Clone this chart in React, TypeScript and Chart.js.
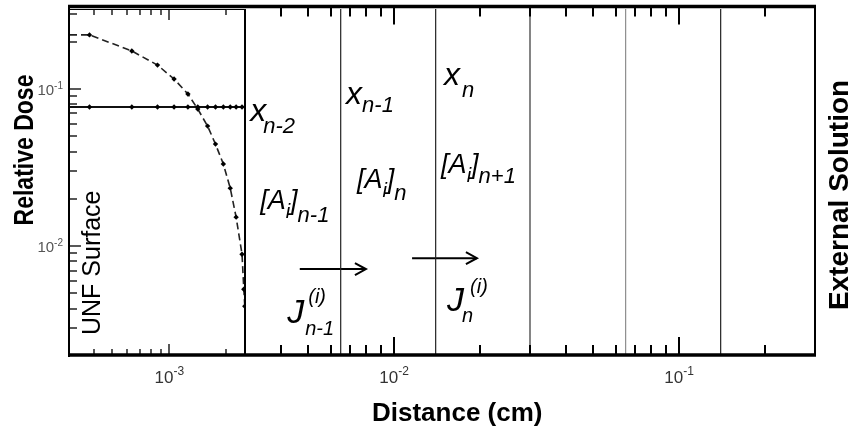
import React, { useEffect, useRef } from 'react';
import { Chart, registerables } from 'chart.js';

Chart.register(...registerables);

const W = 852;
const H = 431;

// ---------- left panel: relative dose next to the UNF surface ----------
const DASHED_DIST_CM = [3.0e-4, 3.8e-4, 6.35e-4, 8.67e-4, 1.06e-3, 1.254e-3, 1.413e-3, 1.592e-3, 1.752e-3, 1.927e-3, 2.095e-3, 2.25e-3, 2.417e-3, 2.47e-3, 2.5e-3];
const DASHED_DOSE = [0.221, 0.221, 0.1746, 0.142, 0.1158, 0.0929, 0.0746, 0.0581, 0.0446, 0.0333, 0.0234, 0.0153, 0.00889, 0.00532, 0.00415];
const SOLID_DIST_CM = [3.0e-4, 3.8e-4, 6.35e-4, 8.67e-4, 1.06e-3, 1.254e-3, 1.413e-3, 1.592e-3, 1.752e-3, 1.927e-3, 2.095e-3, 2.25e-3, 2.417e-3, 2.506e-3];
const SOLID_DOSE = [0.0768, 0.0768, 0.0768, 0.0768, 0.0768, 0.0768, 0.0768, 0.0768, 0.0768, 0.0768, 0.0768, 0.0768, 0.0768, 0.0768];

// axis ranges
const LEFT_DIST_RANGE = [3.0e-4, 2.506e-3];
const RIGHT_DIST_RANGE = [3e-3, 0.3];
const DOSE_RANGE = [2e-3, 0.323];

// ---------- right panel: compartments ----------
const BOUNDARY_DIST_CM = [3e-3, 6.5e-3, 1.4e-2, 3e-2, 6.5e-2, 0.14];
const ARROW_FROM_CM = [4.67e-3, 1.157e-2];
const ARROW_TO_CM = [7.97e-3, 1.954e-2];
const ARROW_LEVEL = [7.15e-3, 8.39e-3];

// tick labels (base 10 with exponent)
const X_TICK_LABELS_LEFT = [{ value: 1e-3, exp: '-3' }];
const X_TICK_LABELS_RIGHT = [{ value: 1e-2, exp: '-2' }, { value: 1e-1, exp: '-1' }];
const Y_TICK_LABELS = [{ value: 1e-2, exp: '-2' }, { value: 1e-1, exp: '-1' }];

// styles
const BOUNDARY_STYLE = [
  { w: 2, c: '#000' },
  { w: 1.2, c: '#222' },
  { w: 1.2, c: '#222' },
  { w: 1.2, c: '#333' },
  { w: 1, c: '#777' },
  { w: 1.2, c: '#222' },
];

// annotation labels anchored in data space (left edge / baseline)
type Part = { t: string; size: number; dx?: number; dy?: number };
const CELL_LABELS: { x: number; y: number; parts: Part[] }[] = [
  { x: 3.13e-3, y: 0.0625, parts: [{ t: 'x', size: 32 }, { t: 'n-2', size: 22, dx: 13, dy: 12 }] },
  { x: 6.79e-3, y: 0.0803, parts: [{ t: 'x', size: 32 }, { t: 'n-1', size: 22, dx: 16, dy: 8 }] },
  { x: 1.497e-2, y: 0.106, parts: [{ t: 'x', size: 32 }, { t: 'n', size: 22, dx: 18, dy: 12 }] },
  { x: 3.39e-3, y: 0.01722, parts: [{ t: '[', size: 27 }, { t: 'A', size: 27 }, { t: 'i', size: 20, dy: 9 }, { t: ']', size: 27 }, { t: 'n-1', size: 22, dy: 13 }] },
  { x: 7.41e-3, y: 0.02341, parts: [{ t: '[', size: 27 }, { t: 'A', size: 27 }, { t: 'i', size: 20, dy: 9 }, { t: ']', size: 27 }, { t: 'n', size: 22, dy: 12 }] },
  { x: 1.463e-2, y: 0.02917, parts: [{ t: '[', size: 27 }, { t: 'A', size: 27 }, { t: 'i', size: 20, dy: 9 }, { t: ']', size: 27 }, { t: 'n+1', size: 22, dy: 10 }] },
  { x: 4.22e-3, y: 3.24e-3, parts: [{ t: 'J', size: 34 }, { t: '(i)', size: 20, dx: 21, dy: -20 }, { t: 'n-1', size: 20, dx: 18, dy: 12 }] },
  { x: 1.535e-2, y: 3.86e-3, parts: [{ t: 'J', size: 34 }, { t: '(i)', size: 20, dx: 23, dy: -18 }, { t: 'n', size: 20, dx: 15, dy: 11 }] },
];

const FONT = '"Liberation Sans", Arial, Helvetica, sans-serif';

function logTicks(range: number[]) {
  const lo = Number(range[0]);
  const hi = Number(range[1]);
  const out: { v: number; major: boolean }[] = [];
  const e0 = Math.floor(Math.log10(lo));
  const e1 = Math.ceil(Math.log10(hi));
  for (let e = e0; e <= e1; e++) {
    for (let m = 1; m <= 9; m++) {
      const v = m * Math.pow(10, e);
      if (v > lo * 1.001 && v < hi * 0.999) out.push({ v, major: m === 1 });
    }
  }
  return out;
}

function seg(ctx: CanvasRenderingContext2D, x1: number, y1: number, x2: number, y2: number) {
  ctx.beginPath();
  ctx.moveTo(x1, y1);
  ctx.lineTo(x2, y2);
  ctx.stroke();
}

function drawPower(ctx: CanvasRenderingContext2D, x: number, baseY: number, exp: string, baseSize: number, expSize: number, rise: number, align: 'center' | 'right') {
  ctx.textAlign = 'left';
  ctx.textBaseline = 'alphabetic';
  ctx.font = `${baseSize}px ${FONT}`;
  const w1 = ctx.measureText('10').width;
  ctx.font = `${expSize}px ${FONT}`;
  const w2 = ctx.measureText(exp).width;
  const start = align === 'center' ? x - (w1 + w2) / 2 : x - w1 - w2;
  ctx.font = `${baseSize}px ${FONT}`;
  ctx.fillText('10', start, baseY);
  ctx.font = `${expSize}px ${FONT}`;
  ctx.fillText(exp, start + w1, baseY - rise);
}

function drawRich(ctx: CanvasRenderingContext2D, x0: number, y0: number, parts: Part[]) {
  ctx.textAlign = 'left';
  ctx.textBaseline = 'alphabetic';
  let cx = x0;
  for (const p of parts) {
    ctx.font = `italic ${p.size}px ${FONT}`;
    const x = p.dx !== undefined ? x0 + p.dx : cx;
    ctx.fillText(p.t, x, y0 + (p.dy || 0));
    cx = x + ctx.measureText(p.t).width;
  }
}

const leftPanelPlugin = {
  id: 'leftPanel',
  afterDraw(chart: any) {
    const ctx: CanvasRenderingContext2D = chart.ctx;
    const a = chart.chartArea;
    const xs = chart.scales.x;
    const ys = chart.scales.y;
    ctx.save();
    ctx.setLineDash([]);
    ctx.strokeStyle = '#111';
    ctx.lineWidth = 1.4;
    for (const t of logTicks(LEFT_DIST_RANGE)) {
      const px = Math.round(xs.getPixelForValue(t.v));
      const len = t.major ? 11 : 6;
      seg(ctx, px, a.bottom - 1, px, a.bottom - 1 - len);
      seg(ctx, px, a.top, px, a.top + len);
    }
    for (const t of logTicks(DOSE_RANGE)) {
      const py = Math.round(ys.getPixelForValue(t.v));
      const len = t.major ? 11 : 7;
      seg(ctx, a.left, py, a.left + len, py);
    }
    ctx.strokeStyle = '#000';
    ctx.lineWidth = 1;
    seg(ctx, a.left, a.top + 0.5, a.right, a.top + 0.5);
    ctx.lineWidth = 2;
    seg(ctx, a.left - 1, a.top - 4, a.left - 1, a.bottom + 1);
    ctx.lineWidth = 3.5;
    seg(ctx, a.left - 2, a.top - 2.5, a.right, a.top - 2.5);
    seg(ctx, a.left - 2, a.bottom - 1, a.right, a.bottom - 1);

    ctx.fillStyle = '#333';
    for (const l of X_TICK_LABELS_LEFT) drawPower(ctx, xs.getPixelForValue(l.value), a.bottom + 27, l.exp, 17, 12, 8, 'center');
    ctx.fillStyle = '#555';
    for (const l of Y_TICK_LABELS) drawPower(ctx, a.left - 7, ys.getPixelForValue(l.value) + 6, l.exp, 15, 10, 6, 'right');

    ctx.fillStyle = '#000';
    ctx.save();
    ctx.translate(a.left - 37, a.top + 141);
    ctx.rotate(-Math.PI / 2);
    ctx.scale(1, 1.2);
    ctx.font = `bold 23px ${FONT}`;
    ctx.textAlign = 'center';
    ctx.fillText('Relative Dose', 0, 0);
    ctx.restore();

    ctx.save();
    ctx.translate(a.left + 30, a.bottom - 21);
    ctx.rotate(-Math.PI / 2);
    ctx.font = `25px ${FONT}`;
    ctx.textAlign = 'left';
    ctx.fillText('UNF Surface', 0, 0);
    ctx.restore();
    ctx.restore();
  },
};

const rightPanelPlugin = {
  id: 'rightPanel',
  afterDraw(chart: any) {
    const ctx: CanvasRenderingContext2D = chart.ctx;
    const a = chart.chartArea;
    const xs = chart.scales.x;
    const ys = chart.scales.y;
    ctx.save();
    ctx.setLineDash([]);
    ctx.strokeStyle = '#000';
    ctx.lineWidth = 2;
    for (const t of logTicks(RIGHT_DIST_RANGE)) {
      const px = Math.round(xs.getPixelForValue(t.v));
      const len = t.major ? 18 : 10;
      seg(ctx, px, a.bottom - 1, px, a.bottom - 1 - len);
      seg(ctx, px, a.top - 2.5, px, a.top - 2.5 + len);
    }
    ctx.lineWidth = 3.5;
    seg(ctx, a.left, a.top - 2.5, a.right + 1, a.top - 2.5);
    seg(ctx, a.left, a.bottom - 1, a.right + 1, a.bottom - 1);
    ctx.lineWidth = 2;
    seg(ctx, a.right, a.top - 2, a.right, a.bottom);

    // arrow heads at the end of each flux arrow
    ARROW_FROM_CM.forEach((_, i) => {
      const meta = chart.getDatasetMeta(BOUNDARY_DIST_CM.length + i);
      const tip = meta.data[1];
      if (!tip) return;
      ctx.lineWidth = 2;
      ctx.beginPath();
      ctx.moveTo(tip.x - 11, tip.y - 6);
      ctx.lineTo(tip.x, tip.y);
      ctx.lineTo(tip.x - 11, tip.y + 6);
      ctx.stroke();
    });

    ctx.fillStyle = '#333';
    for (const l of X_TICK_LABELS_RIGHT) drawPower(ctx, xs.getPixelForValue(l.value), a.bottom + 27, l.exp, 17, 12, 8, 'center');

    ctx.fillStyle = '#000';
    for (const lab of CELL_LABELS) drawRich(ctx, xs.getPixelForValue(lab.x), ys.getPixelForValue(lab.y), lab.parts);

    ctx.font = `bold 26px ${FONT}`;
    ctx.textAlign = 'left';
    ctx.fillText('Distance (cm)', a.left + 127, a.bottom + 65);

    ctx.save();
    ctx.translate(a.right + 33, a.top + 186);
    ctx.rotate(-Math.PI / 2);
    ctx.font = `bold 28px ${FONT}`;
    ctx.textAlign = 'center';
    ctx.fillText('External Solution', 0, 0);
    ctx.restore();
    ctx.restore();
  },
};

function baseOptions(xRange: number[], padding: any) {
  return {
    responsive: false,
    animation: false as const,
    devicePixelRatio: 1,
    events: [],
    layout: { padding },
    plugins: { legend: { display: false }, tooltip: { enabled: false } },
    scales: {
      x: { type: 'logarithmic' as const, min: xRange[0], max: xRange[1], display: false },
      y: { type: 'logarithmic' as const, min: DOSE_RANGE[0], max: DOSE_RANGE[1], display: false },
    },
  };
}

export default function App() {
  const leftRef = useRef<HTMLCanvasElement>(null);
  const rightRef = useRef<HTMLCanvasElement>(null);

  useEffect(() => {
    const left = new Chart(leftRef.current as HTMLCanvasElement, {
      type: 'line',
      data: {
        datasets: [
          {
            data: DASHED_DIST_CM.map((x, i) => ({ x, y: DASHED_DOSE[i] })),
            borderColor: '#222',
            borderWidth: 1.6,
            borderDash: [7, 4],
            pointStyle: 'rectRot',
            pointRadius: DASHED_DIST_CM.map((_, i) => (i === 0 ? 0 : 2.7)),
            pointBackgroundColor: '#000',
            pointBorderColor: '#000',
            pointBorderWidth: 0,
            tension: 0,
          },
          {
            data: SOLID_DIST_CM.map((x, i) => ({ x, y: SOLID_DOSE[i] })),
            borderColor: '#111',
            borderWidth: 2,
            pointStyle: 'rectRot',
            pointRadius: SOLID_DIST_CM.map((_, i) => (i === 0 || i === SOLID_DIST_CM.length - 1 ? 0 : 2.7)),
            pointBackgroundColor: '#000',
            pointBorderColor: '#000',
            pointBorderWidth: 0,
            tension: 0,
          },
        ],
      },
      options: baseOptions(LEFT_DIST_RANGE, { left: 70, right: W - 245, top: 9, bottom: 75 }) as any,
      plugins: [leftPanelPlugin],
    });

    const right = new Chart(rightRef.current as HTMLCanvasElement, {
      type: 'line',
      data: {
        datasets: [
          ...BOUNDARY_DIST_CM.map((b, i) => ({
            data: [{ x: b, y: DOSE_RANGE[0] }, { x: b, y: DOSE_RANGE[1] }],
            borderColor: BOUNDARY_STYLE[i].c,
            borderWidth: BOUNDARY_STYLE[i].w,
            pointRadius: 0,
            clip: false as any,
          })),
          ...ARROW_FROM_CM.map((from, i) => ({
            data: [{ x: from, y: ARROW_LEVEL[i] }, { x: ARROW_TO_CM[i], y: ARROW_LEVEL[i] }],
            borderColor: '#000',
            borderWidth: 2,
            pointRadius: 0,
          })),
        ],
      },
      options: baseOptions(RIGHT_DIST_RANGE, { left: 245, right: 37, top: 9, bottom: 75 }) as any,
      plugins: [rightPanelPlugin],
    });

    return () => {
      left.destroy();
      right.destroy();
    };
  }, []);

  const canvasStyle: React.CSSProperties = { position: 'absolute', left: 0, top: 0, width: W, height: H };
  return (
    <div style={{ position: 'absolute', left: 0, top: 0, width: W, height: H, background: '#fff', overflow: 'hidden' }}>
      <canvas ref={leftRef} width={W} height={H} style={canvasStyle} />
      <canvas ref={rightRef} width={W} height={H} style={canvasStyle} />
    </div>
  );
}
